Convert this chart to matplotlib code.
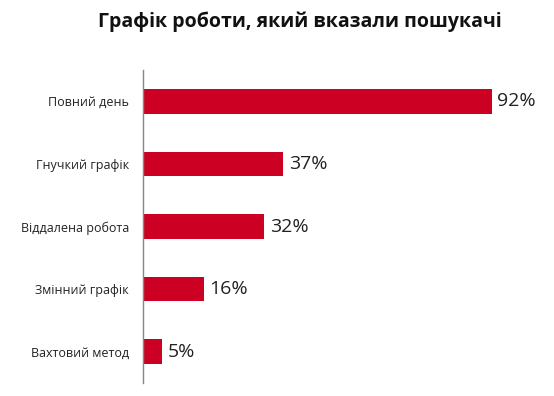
import matplotlib
matplotlib.use('Agg')
import matplotlib.pyplot as plt

# ── Дані ─────────────────────────────────────────────────────────────────────
categories = ['Повний день', 'Гнучкий графік', 'Віддалена робота',
              'Змінний графік', 'Вахтовий метод']
values = [92, 37, 32, 16, 5]
title = 'Графік роботи, який вказали пошукачі'

BAR_COLOR = '#CC0022'
plt.rcParams['font.family'] = ['Open Sans', 'DejaVu Sans']

fig = plt.figure(figsize=(5.54, 3.96), dpi=100)
ax = fig.add_axes([143 / 554, 1 - 383 / 396, (522 - 143) / 554, (383 - 70) / 396])

ypos = list(range(len(categories)))
ax.barh(ypos, values, height=0.39, color=BAR_COLOR)
for y, v in zip(ypos, values):
    ax.text(v + 1.5, y, f'{v}%', va='center', ha='left', fontsize=14,
            color='#222222')

ax.set_yticks(ypos)
ax.set_yticklabels(categories, fontsize=9, color='#222222')
ax.set_ylim(len(categories) - 0.5, -0.5)
ax.set_xlim(0, 100)
ax.set_xticks([])
ax.tick_params(axis='y', length=0, pad=10)
for side in ['top', 'right', 'bottom']:
    ax.spines[side].set_visible(False)
ax.spines['left'].set_color('#888888')
ax.spines['left'].set_linewidth(1)

fig.text(300 / 554, 1 - 22 / 396, title, ha='center', va='center',
         fontsize=14, fontweight='bold', color='#111111')

fig.savefig('out.png', dpi=100)
